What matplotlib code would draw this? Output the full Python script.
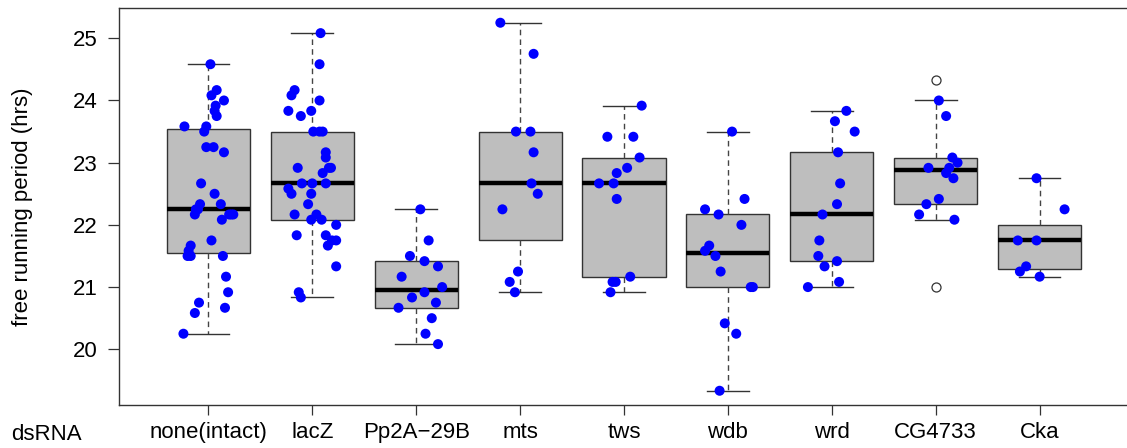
import math
import numpy as np
import matplotlib
matplotlib.use("Agg")
import matplotlib.pyplot as plt

plt.rcParams['font.family'] = ['Liberation Sans', 'DejaVu Sans']

# ---- data (hours) ----
categories = ["none(intact)", "lacZ", "Pp2A\u221229B", "mts", "tws", "wdb", "wrd", "CG4733", "Cka"]

none_intact = [24.583, 24.167, 24.083, 24.0, 23.917, 23.833, 23.75, 23.583, 23.583, 23.5,
               23.25, 23.25, 23.167, 22.667, 22.5, 22.333, 22.333, 22.25, 22.25, 22.167,
               22.167, 22.167, 22.167, 22.083, 21.75, 21.667, 21.583, 21.5, 21.5, 21.5,
               21.167, 20.917, 20.75, 20.667, 20.583, 20.25]
none_intact_jitter = [0.02, 0.08, 0.03, 0.15, 0.07, 0.06, 0.08, -0.23, -0.02, -0.04,
                      -0.02, 0.05, 0.15, -0.07, 0.06, -0.08, 0.12, -0.12, -0.10, -0.13,
                      0.20, 0.24, 0.22, 0.13, 0.03, -0.17, -0.19, -0.20, -0.17, 0.14,
                      0.17, 0.19, -0.09, 0.16, -0.13, -0.24]

lacZ = [25.083, 24.583, 24.167, 24.083, 24.0, 23.833, 23.833, 23.75, 23.5, 23.5,
        23.5, 23.167, 23.083, 22.917, 22.917, 22.917, 22.833, 22.667, 22.667, 22.667,
        22.583, 22.5, 22.5, 22.333, 22.167, 22.167, 22.083, 22.083, 22.0, 21.833,
        21.833, 21.75, 21.75, 21.667, 21.333, 20.917, 20.833]
lacZ_jitter = [0.08, 0.07, -0.17, -0.20, 0.07, -0.23, -0.01, -0.11, 0.01, 0.07,
               0.10, 0.13, 0.13, 0.16, 0.18, -0.14, 0.10, -0.10, 0.0, 0.13,
               -0.23, -0.20, -0.01, -0.04, -0.17, 0.04, -0.01, 0.09, 0.23, -0.15,
               0.13, 0.19, 0.23, 0.15, 0.23, -0.13, -0.11]

pp2a_29b = [22.25, 21.75, 21.5, 21.417, 21.333, 21.167, 21.0, 20.917, 20.833, 20.75,
            20.667, 20.5, 20.25, 20.083]
pp2a_29b_jitter = [0.04, 0.12, -0.06, 0.08, 0.21, -0.14, 0.25, 0.08, -0.04, 0.19,
                   -0.17, 0.15, 0.09, 0.21]

mts = [25.25, 24.75, 23.5, 23.5, 23.167, 22.667, 22.5, 22.25, 21.25, 21.083, 20.917]
mts_jitter = [-0.19, 0.13, -0.04, 0.10, 0.13, 0.11, 0.17, -0.17, -0.02, -0.10, -0.05]

tws = [23.917, 23.417, 23.417, 23.083, 22.917, 22.833, 22.667, 22.667, 22.417, 21.167,
       21.083, 21.083, 20.917]
tws_jitter = [0.17, -0.16, 0.09, 0.15, 0.03, -0.07, -0.24, -0.10, -0.07, 0.06,
              -0.11, -0.08, -0.13]

wdb = [23.5, 22.417, 22.25, 22.167, 22.0, 21.667, 21.583, 21.5, 21.25, 21.0,
       21.0, 20.417, 20.25, 19.333]
wdb_jitter = [0.04, 0.16, -0.22, -0.09, 0.13, -0.18, -0.22, -0.12, -0.07, 0.22,
              0.24, -0.03, 0.08, -0.08]

wrd = [23.833, 23.667, 23.5, 23.167, 22.667, 22.333, 22.167, 21.75, 21.5, 21.417,
       21.333, 21.083, 21.0]
wrd_jitter = [0.14, 0.03, 0.22, 0.06, 0.08, 0.05, -0.09, -0.12, -0.13, 0.05,
              -0.07, 0.07, -0.23]

# CG4733: the two outlying values are shown only as open circles
cg4733_outliers = [24.333, 21.0]
cg4733 = [24.0, 23.75, 23.083, 23.0, 22.917, 22.917, 22.833, 22.75, 22.417, 22.333,
          22.167, 22.083]
cg4733_jitter = [0.03, 0.10, 0.16, 0.21, 0.13, -0.07, 0.10, 0.17, 0.03, -0.09,
                 -0.16, 0.18]

cka = [22.75, 22.25, 21.75, 21.75, 21.333, 21.25, 21.167]
cka_jitter = [-0.03, 0.24, -0.21, -0.03, -0.13, -0.19, 0.0]

groups = [none_intact, lacZ, pp2a_29b, mts, tws, wdb, wrd, cg4733 + cg4733_outliers, cka]
points = [none_intact, lacZ, pp2a_29b, mts, tws, wdb, wrd, cg4733, cka]
jitters = [none_intact_jitter, lacZ_jitter, pp2a_29b_jitter, mts_jitter, tws_jitter,
           wdb_jitter, wrd_jitter, cg4733_jitter, cka_jitter]


def fivenum(v):
    x = sorted(v)
    n = len(x)
    n4 = math.floor((n + 3) / 2) / 2
    d = [1, n4, (n + 1) / 2, n + 1 - n4, n]
    return [0.5 * (x[math.floor(k) - 1] + x[math.ceil(k) - 1]) for k in d]


def r_box_stats(v, coef=1.5):
    s = fivenum(v)
    iqr = s[3] - s[1]
    lo, hi = s[1] - coef * iqr, s[3] + coef * iqr
    inside = [a for a in v if lo <= a <= hi]
    out = [a for a in v if a < lo or a > hi]
    return dict(med=s[2], q1=s[1], q3=s[3], whislo=min(inside), whishi=max(inside), fliers=out)


stats = [r_box_stats(g) for g in groups]
positions = np.arange(1, len(categories) + 1)

FS = 16
W, H = 1127, 448
fig = plt.figure(figsize=(W / 100, H / 100), dpi=100)
ax = fig.add_axes([119 / W, 1 - 405 / H, 1010 / W, (405 - 8) / H])

ax.bxp(stats, positions=positions, widths=0.8, patch_artist=True,
       boxprops=dict(facecolor='#BEBEBE', edgecolor='#333333', linewidth=1.0),
       medianprops=dict(color='black', linewidth=3.2, solid_capstyle='butt'),
       whiskerprops=dict(color='#444444', linewidth=1.0, linestyle=(0, (4, 3))),
       capprops=dict(color='#333333', linewidth=1.0),
       capwidths=0.4,
       flierprops=dict(marker='o', markerfacecolor='none', markeredgecolor='#333333',
                       markersize=6.5, markeredgewidth=0.9),
       zorder=2)

for p, vals, jit in zip(positions, points, jitters):
    ax.scatter(p + np.asarray(jit), vals, s=52, color='#0000FF', edgecolors='none', zorder=4)

ax.set_xlim(0.14, 9.86)
ax.set_ylim(19.104, 25.487)
ax.set_yticks([20, 21, 22, 23, 24, 25])
ax.set_xticks(positions)
ax.set_xticklabels(categories)
ax.tick_params(axis='y', direction='out', length=7.7, width=0.9, color='#333333',
               pad=7.5, labelsize=FS, labelcolor='black')
ax.tick_params(axis='x', direction='out', length=7.2, width=0.9, color='#333333',
               pad=5, labelsize=FS, labelcolor='black')
for s in ax.spines.values():
    s.set_color('#333333')
    s.set_linewidth(1.0)
ax.set_ylabel('free running period (hrs)', fontsize=FS)
ax.yaxis.set_label_coords(-(119 - 23) / 1010, 0.5)
ax.yaxis.label.set_verticalalignment('center')

fig.text(46 / W, 1 - 434 / H, 'dsRNA', ha='center', va='center', fontsize=FS)

fig.savefig('out.png', dpi=100)
